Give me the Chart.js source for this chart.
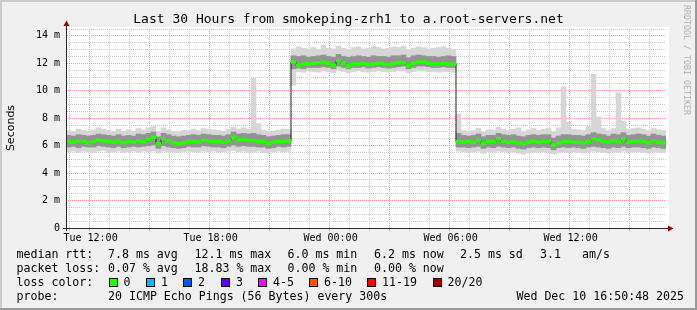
<!DOCTYPE html>
<html>
<head>
<meta charset="utf-8">
<title>smokeping zrh1 - a.root-servers.net</title>
<script src="https://cdn.jsdelivr.net/npm/chart.js@4.4.1/dist/chart.umd.min.js"></script>
<style>
  html, body { margin: 0; padding: 0; background: #f0f0f0; }
  #frame { position: relative; width: 697px; height: 310px; background: #f0f0f0; overflow: hidden;
           font-family: 'DejaVu Sans Mono', monospace; color: #000; }
  #chart { position: absolute; left: 0; top: 0; }
  .shade { position: absolute; }
  .txt { position: absolute; white-space: pre; font-size: 11.6px; line-height: 14px; }
  .box { position: absolute; width: 9px; height: 9px; box-sizing: border-box; border: 1px solid #000; }
  #title { position: absolute; left: 0; width: 697px; top: 11px; text-align: center; font-size: 13px; line-height: 16px; white-space: pre; }
  #ylabel { position: absolute; left: 10px; top: 128px; font-family: 'DejaVu Sans', sans-serif; font-size: 11px;
            line-height: 13px; white-space: pre; transform: translate(-50%, -50%) rotate(-90deg); }
  #mark { position: absolute; left: 687px; top: 60px; font-size: 8.3px; line-height: 10px; color: #b0b0b0;
          white-space: pre; transform: translate(-50%, -50%) rotate(90deg); }
</style>
</head>
<body>
<div id="frame">
  <canvas id="chart" width="697" height="310"></canvas>
  <div class="shade" style="left:0;top:0;width:697px;height:2px;background:#cbcbcb"></div>
  <div class="shade" style="left:0;top:0;width:2px;height:310px;background:#cbcbcb"></div>
  <div class="shade" style="left:0;top:308px;width:697px;height:2px;background:#999"></div>
  <div class="shade" style="left:695px;top:0;width:2px;height:310px;background:#999"></div>
  <div id="title"></div>
  <div id="ylabel"></div>
  <div id="mark"></div>
  <div id="legend"></div>
</div>
<script>
// texts
const titleText = 'Last 30 Hours from smokeping-zrh1 to a.root-servers.net';
const yAxisTitle = 'Seconds';
const watermark = 'RRDTOOL / TOBI OETIKER';

// time axis: hours counted from Tue 00:00, graph ends Wed 16:50:48
const timeStart = 10 + 50 / 60 + 48 / 3600;
const timeEnd = timeStart + 30;
const binHours = 0.25;
const xTickHours = [12, 18, 24, 30, 36];
const xTickLabels = ['Tue 12:00', 'Tue 18:00', 'Wed 00:00', 'Wed 06:00', 'Wed 12:00'];

// median rtt per 15 min (ms)
const medianRtt = [
  6.30, 6.25, 6.35, 6.30, 6.20, 6.30, 6.40, 6.35, 6.30, 6.25,
  6.30, 6.20, 6.30, 6.25, 6.35, 6.30, 6.45, 6.60, 6.15, 6.50,
  6.35, 6.20, 6.15, 6.20, 6.30, 6.30, 6.25, 6.40, 6.35, 6.30,
  6.30, 6.25, 6.35, 6.60, 6.40, 6.45, 6.40, 6.35, 6.30, 6.30,
  6.15, 6.25, 6.30, 6.30, 6.35, 12.10, 11.85, 11.95, 11.95, 12.00,
  12.05, 12.10, 12.00, 11.85, 12.20, 12.00, 11.80, 11.95, 11.95, 12.00,
  11.90, 11.95, 12.00, 11.95, 11.90, 12.00, 12.05, 12.05, 11.85, 12.00,
  12.10, 12.10, 12.00, 11.95, 11.95, 12.00, 11.95, 11.95, 6.30, 6.25,
  6.30, 6.25, 6.40, 6.15, 6.30, 6.30, 6.50, 6.30, 6.25, 6.30,
  6.20, 6.15, 6.25, 6.30, 6.25, 6.30, 6.30, 6.05, 6.20, 6.30,
  6.30, 6.25, 6.25, 6.20, 6.30, 6.50, 6.40, 6.30, 6.25, 6.35,
  6.30, 6.50, 6.25, 6.30, 6.35, 6.30, 6.20, 6.35, 6.25, 6.20
];

// smoke: outer spread of the 20 pings (ms)
const smokeMin = [
  5.55, 5.60, 5.50, 5.60, 5.55, 5.50, 5.60, 5.65, 5.50, 5.55,
  5.60, 5.50, 5.55, 5.60, 5.50, 5.60, 5.55, 5.60, 5.45, 5.60,
  5.55, 5.50, 5.50, 5.55, 5.60, 5.55, 5.50, 5.60, 5.55, 5.60,
  5.50, 5.55, 5.60, 5.65, 5.55, 5.60, 5.50, 5.55, 5.60, 5.50,
  5.45, 5.55, 5.60, 5.55, 5.60, 10.40, 11.40, 11.35, 11.45, 11.40,
  11.35, 11.45, 11.40, 11.30, 11.50, 11.40, 11.30, 11.40, 11.45, 11.40,
  11.35, 11.40, 11.45, 11.40, 11.35, 11.40, 11.45, 11.45, 11.30, 11.40,
  11.50, 11.45, 11.40, 11.40, 11.35, 11.40, 11.40, 11.35, 5.60, 5.55,
  5.50, 5.55, 5.60, 5.45, 5.55, 5.50, 5.60, 5.55, 5.50, 5.55,
  5.45, 5.40, 5.50, 5.55, 5.50, 5.55, 5.50, 5.40, 5.50, 5.55,
  5.50, 5.55, 5.50, 5.45, 5.55, 5.60, 5.55, 5.50, 5.45, 5.55,
  5.50, 5.60, 5.50, 5.55, 5.55, 5.50, 5.45, 5.55, 5.50, 5.50
];
const smokeMax = [
  7.10, 7.05, 7.20, 7.10, 7.05, 7.15, 7.30, 7.20, 7.10, 7.05,
  7.20, 7.05, 7.15, 7.05, 7.25, 7.15, 7.30, 7.40, 7.00, 7.30,
  7.15, 7.05, 7.00, 7.10, 7.10, 7.20, 7.10, 7.25, 7.20, 7.15,
  7.10, 7.05, 7.20, 7.35, 7.20, 7.30, 7.20, 10.90, 7.60, 7.15,
  7.05, 7.05, 7.15, 7.20, 7.20, 13.05, 13.20, 13.10, 13.05, 13.15,
  13.00, 13.30, 13.10, 13.05, 13.25, 13.10, 13.00, 13.15, 13.20, 13.05,
  13.10, 13.25, 13.15, 13.05, 13.10, 13.20, 13.15, 13.25, 13.00, 13.10,
  13.20, 13.15, 13.05, 13.10, 13.15, 13.20, 13.10, 13.00, 8.30, 7.10,
  7.05, 7.10, 7.25, 7.00, 7.15, 7.15, 7.35, 7.20, 7.10, 7.20,
  7.30, 7.05, 7.15, 7.25, 7.10, 7.20, 7.25, 7.00, 7.30, 10.30,
  7.70, 7.20, 7.15, 7.10, 7.40, 11.20, 8.10, 7.25, 7.10, 7.25,
  9.85, 7.80, 7.20, 7.25, 7.30, 7.20, 7.10, 7.25, 7.15, 7.10
];
// smoke: dense core (ms)
const smokeLow = [
  5.90, 5.95, 5.85, 5.95, 5.90, 5.90, 6.00, 5.95, 5.90, 5.85,
  5.95, 5.85, 5.90, 5.95, 5.90, 5.95, 6.00, 6.05, 5.80, 6.00,
  5.90, 5.85, 5.80, 5.85, 5.95, 5.90, 5.90, 6.00, 5.95, 5.90,
  5.90, 5.85, 5.95, 6.05, 5.95, 6.00, 5.95, 5.95, 5.90, 5.90,
  5.80, 5.85, 5.95, 5.90, 5.95, 11.60, 11.65, 11.60, 11.70, 11.70,
  11.70, 11.75, 11.70, 11.60, 11.80, 11.70, 11.60, 11.70, 11.70, 11.75,
  11.65, 11.70, 11.75, 11.70, 11.65, 11.70, 11.75, 11.80, 11.60, 11.70,
  11.80, 11.80, 11.75, 11.70, 11.70, 11.75, 11.70, 11.70, 5.90, 5.90,
  5.85, 5.90, 5.95, 5.80, 5.90, 5.85, 5.95, 5.90, 5.85, 5.90,
  5.80, 5.75, 5.85, 5.90, 5.85, 5.90, 5.85, 5.70, 5.85, 5.90,
  5.85, 5.90, 5.85, 5.80, 5.90, 5.95, 5.90, 5.85, 5.80, 5.90,
  5.85, 5.95, 5.85, 5.90, 5.90, 5.85, 5.80, 5.90, 5.85, 5.80
];
const smokeHigh = [
  6.75, 6.70, 6.80, 6.75, 6.70, 6.75, 6.85, 6.80, 6.75, 6.70,
  6.80, 6.70, 6.75, 6.70, 6.85, 6.80, 6.90, 7.00, 6.65, 6.90,
  6.80, 6.70, 6.65, 6.70, 6.75, 6.80, 6.75, 6.85, 6.80, 6.75,
  6.75, 6.70, 6.80, 7.00, 6.85, 6.90, 6.85, 6.90, 6.80, 6.75,
  6.65, 6.70, 6.75, 6.80, 6.80, 12.55, 12.50, 12.55, 12.45, 12.50,
  12.55, 12.60, 12.50, 12.45, 12.65, 12.50, 12.45, 12.50, 12.55, 12.50,
  12.45, 12.55, 12.50, 12.50, 12.45, 12.55, 12.55, 12.60, 12.40, 12.55,
  12.60, 12.55, 12.50, 12.50, 12.45, 12.50, 12.55, 12.50, 6.90, 6.75,
  6.70, 6.75, 6.85, 6.65, 6.75, 6.75, 6.90, 6.80, 6.75, 6.80,
  6.70, 6.65, 6.75, 6.80, 6.75, 6.80, 6.80, 6.55, 6.70, 6.80,
  6.80, 6.75, 6.75, 6.70, 6.80, 6.95, 6.85, 6.80, 6.70, 6.85,
  6.80, 6.95, 6.75, 6.80, 6.85, 6.80, 6.70, 6.85, 6.75, 6.70
];

// legend
const rttLabel = 'median rtt:';
const rttStats = ['7.8 ms avg', '12.1 ms max', '6.0 ms min', '6.2 ms now', '2.5 ms sd', '3.1', 'am/s'];
const lossLabel = 'packet loss:';
const lossStats = ['0.07 % avg', '18.83 % max', '0.00 % min', '0.00 % now'];
const lossColorLabel = 'loss color:';
const lossBins = ['0', '1', '2', '3', '4-5', '6-10', '11-19', '20/20'];
const lossColors = ['#26ff00', '#00b8ff', '#0059ff', '#5e00ff', '#ff00ff', '#ff5500', '#ff0000', '#a10000'];
const probeLabel = 'probe:';
const probeText = '20 ICMP Echo Pings (56 Bytes) every 300s';
const stampText = 'Wed Dec 10 16:50:48 2025';

// legend layout (px)
const rowTops = [247, 261, 275, 289];
const statCols = [108, 194.5, 287.5, 374, 460, 540, 582];
const swatchCols = [108.5, 146, 183, 221, 258, 309, 367, 432.5];

document.getElementById('title').textContent = titleText;
document.getElementById('ylabel').textContent = yAxisTitle;
document.getElementById('mark').textContent = watermark;

const legend = document.getElementById('legend');
function addText(text, left, top, right) {
  const d = document.createElement('div');
  d.className = 'txt';
  d.textContent = text;
  d.style.top = top + 'px';
  if (right !== undefined) d.style.right = right + 'px';
  else d.style.left = left + 'px';
  legend.appendChild(d);
}
addText(rttLabel, 16.5, rowTops[0]);
rttStats.forEach((s, i) => addText(s, statCols[i], rowTops[0]));
addText(lossLabel, 16.5, rowTops[1]);
lossStats.forEach((s, i) => addText(s, statCols[i], rowTops[1]));
addText(lossColorLabel, 16.5, rowTops[2]);
lossBins.forEach((s, i) => {
  const b = document.createElement('div');
  b.className = 'box';
  b.style.left = swatchCols[i] + 'px';
  b.style.top = (rowTops[2] + 3) + 'px';
  b.style.background = lossColors[i];
  legend.appendChild(b);
  addText(s, swatchCols[i] + 15, rowTops[2]);
});
addText(probeLabel, 16.5, rowTops[3]);
addText(probeText, 108, rowTops[3]);
addText(stampText, 0, rowTops[3], 13);

// chart
const canvas = document.getElementById('chart');
const binTimes = medianRtt.map((_, i) => timeStart + binHours * (i + 0.5));
const band = (lo, hi) => lo.map((v, i) => ({ x: binTimes[i], y: [v, hi[i]] }));

// rrd style dotted grid: checkerboard pattern gives 1-on-1-off dots on pixel aligned lines
function dots(color) {
  const c = document.createElement('canvas');
  c.width = 2; c.height = 2;
  const g = c.getContext('2d');
  g.fillStyle = color;
  g.fillRect(0, 0, 1, 1);
  g.fillRect(1, 1, 1, 1);
  return canvas.getContext('2d').createPattern(c, 'repeat');
}
const majorGrid = dots('#ff9494');
const minorGrid = dots('#cacaca');

const rrdFrame = {
  id: 'rrdFrame',
  beforeDraw(chart) {
    const { ctx, chartArea: a } = chart;
    ctx.save();
    ctx.fillStyle = '#fff';
    ctx.fillRect(a.left, a.top - 2, a.right - a.left + 3, a.bottom - a.top + 2);
    ctx.restore();
  },
  afterDatasetsDraw(chart) {
    const { ctx, chartArea: a } = chart;
    ctx.save();
    ctx.strokeStyle = '#2a2a2a';
    ctx.lineWidth = 1;
    ctx.beginPath();
    ctx.moveTo(a.left - 3, a.bottom + 0.5);
    ctx.lineTo(a.right + 2, a.bottom + 0.5);
    ctx.moveTo(a.left + 0.5, a.bottom + 3);
    ctx.lineTo(a.left + 0.5, a.top - 4);
    ctx.stroke();
    ctx.fillStyle = '#a00000';
    ctx.beginPath();
    ctx.moveTo(a.right + 2, a.bottom - 2.5);
    ctx.lineTo(a.right + 7.5, a.bottom + 0.5);
    ctx.lineTo(a.right + 2, a.bottom + 3.5);
    ctx.fill();
    ctx.beginPath();
    ctx.moveTo(a.left - 2.5, a.top - 3);
    ctx.lineTo(a.left + 0.5, a.top - 8.5);
    ctx.lineTo(a.left + 3.5, a.top - 3);
    ctx.fill();
    ctx.restore();
  }
};

const barStyle = { type: 'bar', grouped: false, barPercentage: 1, categoryPercentage: 1, borderWidth: 0 };

new Chart(canvas, {
  type: 'bar',
  data: {
    datasets: [
      { ...barStyle, data: band(smokeMin, smokeMax), backgroundColor: '#d6d6d6', order: 5 },
      { ...barStyle, data: band(smokeLow, smokeHigh), backgroundColor: '#939393', order: 4 },
      { type: 'line', data: medianRtt.map((v, i) => ({ x: binTimes[i], y: v })), stepped: 'middle',
        borderColor: '#202020', borderWidth: 1, pointRadius: 0, order: 2 },
      { ...barStyle, data: medianRtt.map((v, i) => ({ x: binTimes[i], y: [v - 0.1, v + 0.1] })),
        backgroundColor: lossColors[0], order: 1 }
    ]
  },
  options: {
    responsive: false,
    animation: false,
    devicePixelRatio: 1,
    events: [],
    layout: { padding: { left: 0, top: 29, right: 31, bottom: 0 } },
    plugins: { legend: { display: false }, tooltip: { enabled: false }, title: { display: false } },
    scales: {
      x: {
        type: 'linear',
        min: timeStart,
        max: timeEnd,
        offset: false,
        afterFit(scale) { scale.height = 82; },
        afterBuildTicks(scale) {
          const t = [];
          for (let h = Math.ceil(timeStart); h < timeEnd; h++) t.push({ value: h });
          scale.ticks = t;
        },
        border: { display: false },
        grid: {
          offset: false,
          drawTicks: true,
          tickLength: 3,
          color: (c) => c.tick.value % 3 === 0 ? majorGrid : minorGrid,
          tickColor: (c) => c.tick.value % 3 === 0 ? '#ff8080' : '#c8c8c8'
        },
        ticks: {
          autoSkip: false,
          maxRotation: 0,
          minRotation: 0,
          padding: 1,
          labelOffset: 1.5,
          color: '#000',
          font: { family: 'DejaVu Sans Mono', size: 10 },
          callback: (v) => {
            const k = xTickHours.indexOf(v);
            return k >= 0 ? xTickLabels[k] : '';
          }
        }
      },
      y: {
        min: 0,
        max: 14.5,
        afterFit(scale) { scale.width = 66; },
        border: { display: false },
        grid: {
          drawTicks: false,
          color: (c) => c.tick.value === 0 ? 'rgba(0,0,0,0)' : (c.tick.value % 2 === 0 ? majorGrid : minorGrid)
        },
        ticks: {
          stepSize: 0.5,
          autoSkip: false,
          padding: 6,
          color: '#000',
          font: { family: 'DejaVu Sans Mono', size: 10 },
          callback: (v) => v % 2 !== 0 ? '' : (v === 0 ? '0' : v + ' m')
        }
      }
    }
  },
  plugins: [rrdFrame]
});
</script>
</body>
</html>
